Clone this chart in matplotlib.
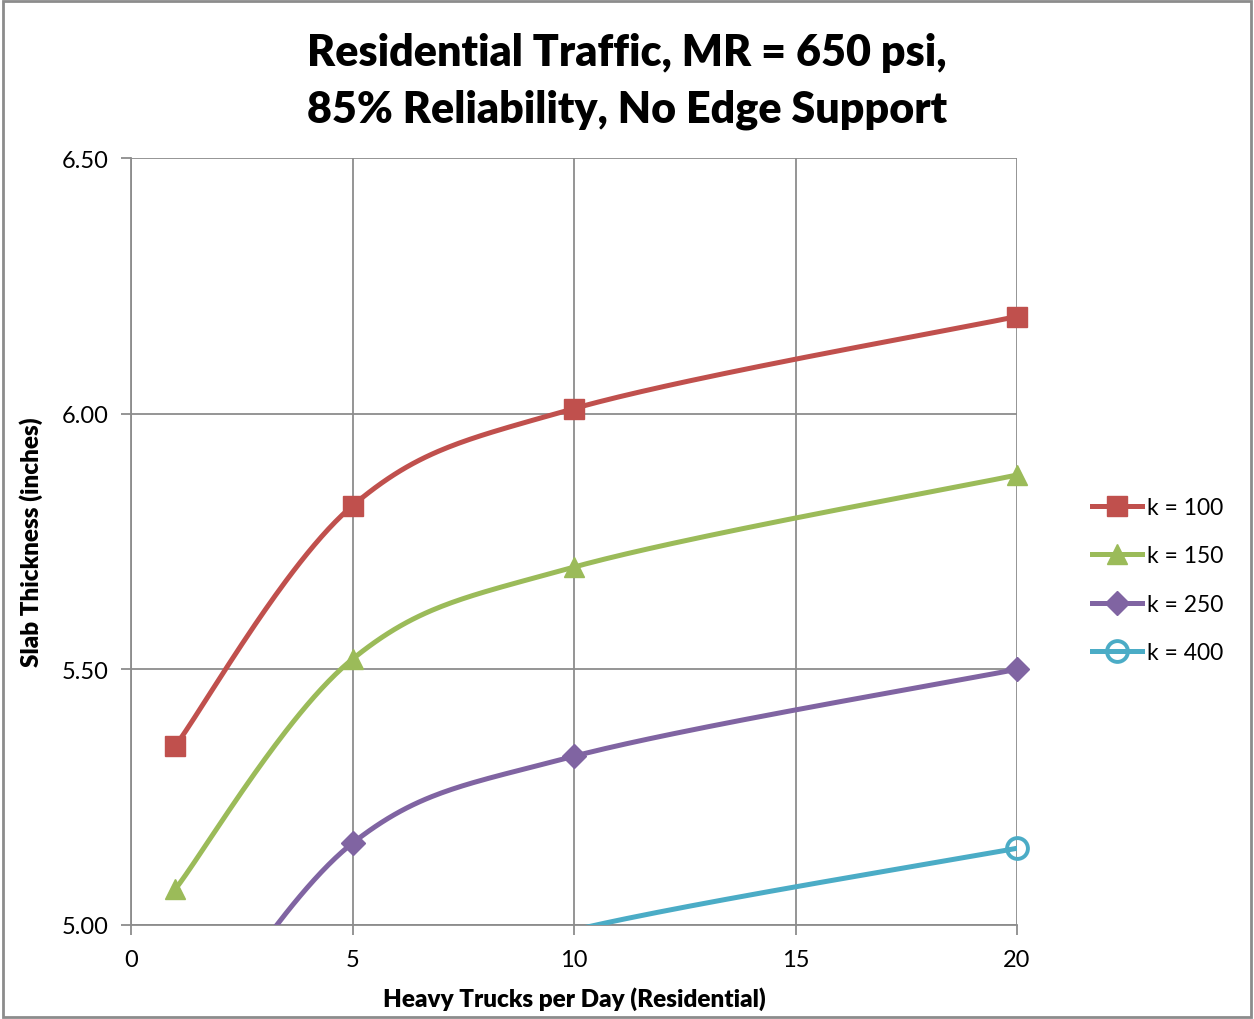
import numpy as np
import matplotlib
matplotlib.use("Agg")
import matplotlib.pyplot as plt
from matplotlib.patches import Rectangle

# data
trucks = [1, 5, 10, 20]
k100 = [5.35, 5.82, 6.01, 6.19]
k150 = [5.07, 5.52, 5.70, 5.88]
k250 = [4.72, 5.16, 5.33, 5.50]
k400 = [4.40, 4.84, 4.99, 5.15]
labels = ["k = 100", "k = 150", "k = 250", "k = 400"]
colors = ["#C0504D", "#9BBB59", "#8064A2", "#4BACC6"]
markers = ["s", "^", "D", "o"]

plt.rcParams['font.family'] = ['Lato', 'DejaVu Sans']


# Excel style smoothed line (cubic bezier, tension 1/6)
def smooth(x, y, n=60):
    x = np.asarray(x, float)
    y = np.asarray(y, float)
    px = np.concatenate([[x[0]], x, [x[-1]]])
    py = np.concatenate([[y[0]], y, [y[-1]]])
    xs, ys = [], []
    t = np.linspace(0, 1, n)
    for i in range(1, len(px) - 2):
        p0 = np.array([px[i], py[i]])
        p3 = np.array([px[i + 1], py[i + 1]])
        p1 = p0 + (np.array([px[i + 1], py[i + 1]]) - np.array([px[i - 1], py[i - 1]])) / 6
        p2 = p3 - (np.array([px[i + 2], py[i + 2]]) - np.array([px[i], py[i]])) / 6
        b = ((1 - t) ** 3)[:, None] * p0 + (3 * (1 - t) ** 2 * t)[:, None] * p1 \
            + (3 * (1 - t) * t ** 2)[:, None] * p2 + (t ** 3)[:, None] * p3
        xs.append(b[:, 0])
        ys.append(b[:, 1])
    return np.concatenate(xs), np.concatenate(ys)


fig = plt.figure(figsize=(12.54, 10.2), dpi=100)
ax = fig.add_axes([0.1045, 0.0922, 0.7065, 0.7519])

ymin, ymax = 5.0, 6.5
lw = 3.6
handles = []
for ys, lab, c, m in zip([k100, k150, k250, k400], labels, colors, markers):
    sx, sy = smooth(trucks, ys)
    ax.plot(sx, sy, color=c, lw=lw, solid_capstyle='round', zorder=3)
    xa = np.array(trucks)
    ya = np.array(ys)
    keep = ya >= ymin
    ms = 14 if m != "D" else 12
    if m == "o":
        ax.plot(xa[keep], ya[keep], ls='none', marker=m, ms=15, mfc='none',
                mec=c, mew=2.8, clip_on=False, zorder=4)
    else:
        ax.plot(xa[keep], ya[keep], ls='none', marker=m, ms=ms, color=c,
                clip_on=False, zorder=4)
    h, = ax.plot([], [], color=c, lw=lw, marker=m, ms=ms if m != "o" else 15,
                 mfc='none' if m == "o" else c, mec=c, mew=2.8 if m == "o" else 1)
    handles.append(h)

ax.set_xlim(0, 20)
ax.set_ylim(ymin, ymax)
ax.set_xticks([0, 5, 10, 15, 20])
ax.set_yticks([5.0, 5.5, 6.0, 6.5])
ax.set_yticklabels(["%.2f" % v for v in [5.0, 5.5, 6.0, 6.5]])
ax.grid(True, color='#8C8C8C', lw=1.3)
ax.set_axisbelow(True)
for s in ['top', 'right']:
    ax.spines[s].set_visible(False)
for s in ['left', 'bottom']:
    ax.spines[s].set_color('#8C8C8C')
    ax.spines[s].set_linewidth(1.3)
ax.tick_params(colors='#8C8C8C', labelcolor='black', labelsize=17, length=7, width=1.3)
ax.tick_params(axis='x', pad=10)
ax.tick_params(axis='y', pad=9)

ax.set_xlabel("Heavy Trucks per Day (Residential)", fontsize=17.5, fontweight='heavy', labelpad=12)
ax.set_ylabel("Slab Thickness (inches)", fontsize=17.5, fontweight='heavy', labelpad=14)
fig.text(0.5, 0.9205, "Residential Traffic, MR = 650 psi,\n85% Reliability, No Edge Support",
         ha='center', va='center', fontsize=31, fontweight='heavy', linespacing=1.5)

fig.legend(handles, labels, loc='upper left', bbox_to_anchor=(0.8635, 0.521),
           frameon=False, fontsize=16.5, handlelength=2.2, handletextpad=0.2,
           labelspacing=1.2, borderaxespad=0)

fig.add_artist(Rectangle((0.002, 0.002), 0.996, 0.996, transform=fig.transFigure,
                         fill=False, ec='#8C8C8C', lw=2))

fig.savefig("out.png", dpi=100)
